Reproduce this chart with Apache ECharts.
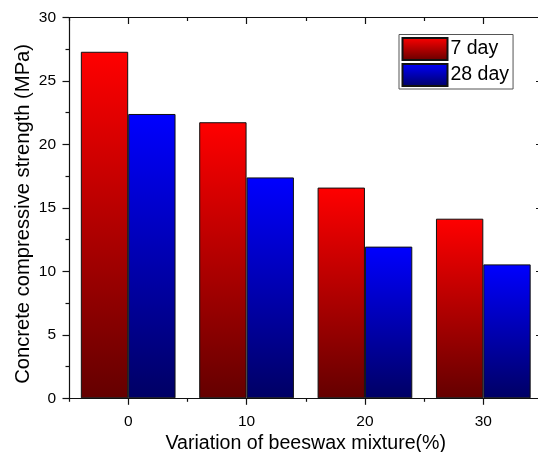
<!DOCTYPE html>
<html>
<head>
<meta charset="utf-8">
<script src="https://cdn.jsdelivr.net/npm/echarts@6/dist/echarts.min.js"></script>
<style>
html,body{margin:0;padding:0;background:#fff;}
#chart{width:538px;height:452px;}
</style>
</head>
<body>
<div id="chart"></div>
<script>
var categories = ['0', '10', '20', '30'];
var day7 = [27.3, 21.75, 16.6, 14.15];
var day28 = [22.4, 17.4, 11.95, 10.55];
var seriesNames = ['7 day', '28 day'];
var xTitle = 'Variation of beeswax mixture(%)';
var yTitle = 'Concrete compressive strength (MPa)';

var FONT = '"Liberation Sans", Arial, sans-serif';
var chart = echarts.init(document.getElementById('chart'), null, {renderer: 'canvas'});

function grad(top, bottom) {
  return new echarts.graphic.LinearGradient(0, 0, 0, 1, [
    {offset: 0, color: top}, {offset: 1, color: bottom}
  ]);
}
var lineStyle = {color: '#111', width: 1.2};

function catAxis(pos, opts) {
  var base = {
    type: 'category', data: categories, position: pos, offset: 0,
    boundaryGap: true,
    axisLine: {show: false, lineStyle: lineStyle},
    axisTick: {show: true, lineStyle: lineStyle},
    axisLabel: {show: false},
    splitLine: {show: false}
  };
  for (var k in opts) base[k] = opts[k];
  return base;
}

chart.setOption({
  animation: false,
  backgroundColor: '#fff',
  textStyle: {fontFamily: FONT, color: '#000'},
  grid: {left: 69, right: -4.5, top: 17.5, bottom: 53.7, containLabel: false, outerBoundsMode: 'none'},
  legend: {
    orient: 'vertical', left: 399, top: 34.5,
    data: seriesNames,
    itemWidth: 45, itemHeight: 22, itemGap: 2,
    padding: [2.5, 4, 2, 2.5],
    borderColor: '#555', borderWidth: 1,
    icon: 'rect',
    textStyle: {fontFamily: FONT, fontSize: 19.5, color: '#000', padding: [0, 0, 0, -2]}
  },
  xAxis: [
    catAxis('bottom', {
      axisLine: {show: true, lineStyle: lineStyle},
      axisTick: {show: true, length: 3.5, lineStyle: lineStyle},
      axisLabel: {show: true, fontFamily: FONT, fontSize: 15.5, color: '#000', margin: 15},
      name: xTitle, nameLocation: 'middle', nameGap: 35, nameMoveOverlap: false,
      nameTextStyle: {fontFamily: FONT, fontSize: 19.6, color: '#000'}
    }),
    catAxis('bottom', {
      axisTick: {show: true, alignWithLabel: true, length: 6.5, lineStyle: lineStyle}
    }),
    catAxis('top', {
      axisLine: {show: true, lineStyle: lineStyle},
      axisTick: {show: true, inside: true, length: 3.5, lineStyle: lineStyle}
    }),
    catAxis('top', {
      axisTick: {show: true, inside: true, alignWithLabel: true, length: 6.5, lineStyle: lineStyle}
    })
  ],
  yAxis: [
    {
      type: 'value', position: 'left', min: 0, max: 30, interval: 5,
      axisLine: {show: true, lineStyle: lineStyle},
      axisTick: {show: true, length: 6.5, lineStyle: lineStyle},
      minorTick: {show: true, splitNumber: 2, length: 3.5, lineStyle: lineStyle},
      axisLabel: {fontFamily: FONT, fontSize: 15.5, color: '#000', margin: 13},
      splitLine: {show: false},
      name: yTitle, nameLocation: 'middle', nameGap: 36, nameMoveOverlap: false,
      nameTextStyle: {fontFamily: FONT, fontSize: 20.2, color: '#000', padding: [0, 12, 0, 0]}
    },
    {
      type: 'value', position: 'right', min: 0, max: 30, interval: 5,
      axisLine: {show: true, lineStyle: lineStyle},
      axisTick: {show: true, inside: true, length: 6.5, lineStyle: lineStyle},
      minorTick: {show: true, splitNumber: 2, length: 3.5, lineStyle: lineStyle},
      axisLabel: {show: false},
      splitLine: {show: false}
    }
  ],
  series: [
    {
      name: seriesNames[0], type: 'bar', xAxisIndex: 0, yAxisIndex: 0,
      data: day7, barGap: '0%', barCategoryGap: '20%',
      itemStyle: {color: grad('#ff0000', '#640000'), borderColor: '#111', borderWidth: 1}
    },
    {
      name: seriesNames[1], type: 'bar', xAxisIndex: 0, yAxisIndex: 0,
      data: day28, barGap: '0%', barCategoryGap: '20%',
      itemStyle: {color: grad('#0000ff', '#000064'), borderColor: '#111', borderWidth: 1}
    }
  ]
});
</script>
</body>
</html>
